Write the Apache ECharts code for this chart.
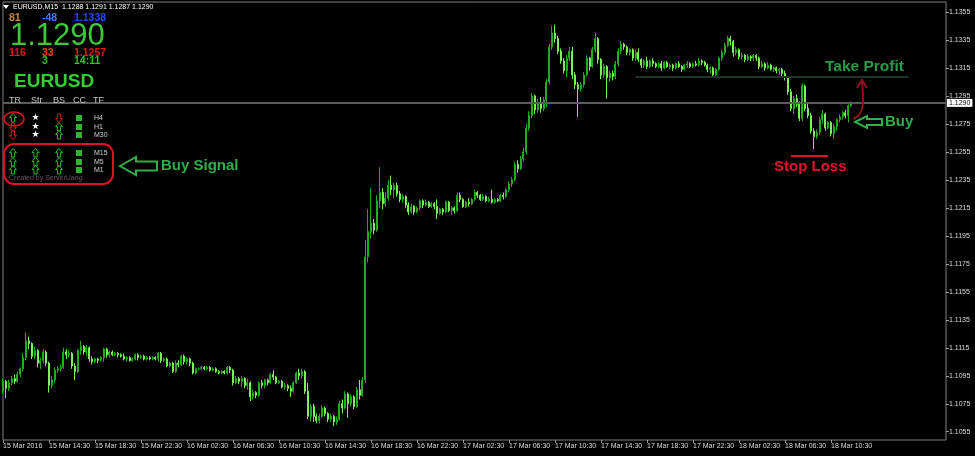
<!DOCTYPE html>
<html><head><meta charset="utf-8">
<script src="https://cdn.jsdelivr.net/npm/echarts@6/dist/echarts.min.js"></script>
<style>html,body{margin:0;padding:0;background:#000;}#c{width:975px;height:456px;}</style>
</head><body><div id="c"></div>
<script>
// ---- data: EURUSD M15 candles [open, close, low, high] ----
const tickLabels = ["15 Mar 2016","15 Mar 14:30","15 Mar 18:30","15 Mar 22:30","16 Mar 02:30","16 Mar 06:30","16 Mar 10:30","16 Mar 14:30","16 Mar 18:30","16 Mar 22:30","17 Mar 02:30","17 Mar 06:30","17 Mar 10:30","17 Mar 14:30","17 Mar 18:30","17 Mar 22:30","18 Mar 02:30","18 Mar 06:30","18 Mar 10:30"];
const yTicks = [1.1055,1.1075,1.1095,1.1115,1.1135,1.1155,1.1175,1.1195,1.1215,1.1235,1.1255,1.1275,1.1295,1.1315,1.1335,1.1355];
const bars15Mar = [
[1.1084,1.1091,1.1082,1.1093],[1.1091,1.1086,1.1079,1.1092],[1.1086,1.1090,1.1084,1.1092],[1.1090,1.1093,1.1088,1.1095],
[1.1093,1.1091,1.1089,1.1096],[1.1091,1.1096,1.1090,1.1098],[1.1096,1.1100,1.1094,1.1101],[1.1100,1.1108,1.1098,1.1111],
[1.1108,1.1120,1.1106,1.1126],[1.1120,1.1118,1.1114,1.1123],[1.1118,1.1109,1.1107,1.1119],[1.1109,1.1113,1.1107,1.1116],
[1.1113,1.1104,1.1101,1.1114],[1.1104,1.1106,1.1100,1.1108],[1.1106,1.1112,1.1104,1.1114],[1.1112,1.1104,1.1102,1.1113],
[1.1104,1.1088,1.1083,1.1105],[1.1088,1.1092,1.1086,1.1095],[1.1092,1.1099,1.1090,1.1101],[1.1099,1.1100,1.1097,1.1102],
[1.1100,1.1101,1.1098,1.1103],[1.1101,1.1112,1.1100,1.1115],[1.1112,1.1110,1.1107,1.1114],[1.1110,1.1111,1.1108,1.1113],
[1.1111,1.1102,1.1100,1.1112],[1.1102,1.1098,1.1092,1.1104],[1.1098,1.1113,1.1097,1.1114],[1.1113,1.1116,1.1110,1.1120],
[1.1116,1.1112,1.1110,1.1117],[1.1112,1.1115,1.1109,1.1117],[1.1115,1.1107,1.1105,1.1116],[1.1107,1.1105,1.1103,1.1109],
[1.1105,1.1107,1.1104,1.1108],[1.1107,1.1106,1.1104,1.1108],[1.1106,1.1108,1.1105,1.1109],[1.1108,1.1114,1.1105,1.1115],
[1.1114,1.1110,1.1108,1.1115],[1.1110,1.1112,1.1108,1.1113],[1.1112,1.1110,1.1109,1.1113],[1.1110,1.1111,1.1109,1.1112],
[1.1111,1.1110,1.1108,1.1112],[1.1110,1.1109,1.1108,1.1111],[1.1109,1.1107,1.1106,1.1111],[1.1107,1.1108,1.1105,1.1109],
[1.1108,1.1106,1.1105,1.1109],[1.1106,1.1107,1.1105,1.1108],[1.1107,1.1110,1.1106,1.1111],[1.1110,1.1108,1.1106,1.1111],
[1.1108,1.1109,1.1107,1.1110],[1.1109,1.1107,1.1106,1.1110],[1.1107,1.1108,1.1106,1.1109],[1.1108,1.1107,1.1106,1.1109],
[1.1107,1.1108,1.1106,1.1109],[1.1108,1.1107,1.1106,1.1109]
];
const bars16Mar = [
[1.1107,1.1111,1.1105,1.1112],[1.1111,1.1106,1.1104,1.1112],[1.1106,1.1107,1.1105,1.1108],[1.1107,1.1102,1.1101,1.1108],
[1.1102,1.1104,1.1101,1.1105],[1.1104,1.1098,1.1097,1.1105],[1.1098,1.1104,1.1097,1.1106],[1.1104,1.1103,1.1101,1.1106],
[1.1103,1.1109,1.1102,1.1110],[1.1109,1.1105,1.1103,1.1110],[1.1105,1.1107,1.1103,1.1108],[1.1107,1.1104,1.1102,1.1108],
[1.1104,1.1097,1.1096,1.1105],[1.1097,1.1100,1.1096,1.1101],[1.1100,1.1100,1.1099,1.1101],[1.1100,1.1101,1.1099,1.1102],
[1.1101,1.1100,1.1099,1.1102],[1.1100,1.1101,1.1099,1.1102],[1.1101,1.1099,1.1098,1.1102],[1.1099,1.1100,1.1098,1.1101],
[1.1100,1.1098,1.1097,1.1101],[1.1098,1.1097,1.1096,1.1099],[1.1097,1.1098,1.1096,1.1099],[1.1098,1.1097,1.1096,1.1099],
[1.1097,1.1101,1.1096,1.1102],[1.1101,1.1099,1.1097,1.1102],[1.1099,1.1090,1.1088,1.1100],[1.1090,1.1093,1.1089,1.1095],
[1.1093,1.1091,1.1089,1.1094],[1.1091,1.1093,1.1087,1.1095],[1.1093,1.1088,1.1086,1.1094],[1.1088,1.1090,1.1085,1.1093],
[1.1090,1.1080,1.1077,1.1091],[1.1080,1.1083,1.1078,1.1085],[1.1083,1.1081,1.1079,1.1084],[1.1081,1.1090,1.1080,1.1091],
[1.1090,1.1088,1.1086,1.1092],[1.1088,1.1092,1.1086,1.1093],[1.1092,1.1090,1.1088,1.1093],[1.1090,1.1096,1.1089,1.1097],
[1.1096,1.1094,1.1092,1.1099],[1.1094,1.1090,1.1089,1.1095],[1.1090,1.1091,1.1089,1.1092],[1.1091,1.1087,1.1086,1.1092],
[1.1087,1.1088,1.1085,1.1090],[1.1088,1.1086,1.1084,1.1089],[1.1086,1.1084,1.1080,1.1088],[1.1084,1.1090,1.1083,1.1091],
[1.1090,1.1097,1.1089,1.1098],[1.1097,1.1095,1.1092,1.1100],[1.1095,1.1098,1.1093,1.1100],[1.1098,1.1084,1.1082,1.1099],
[1.1084,1.1066,1.1064,1.1090],[1.1066,1.1073,1.1062,1.1075],[1.1073,1.1066,1.1062,1.1075],[1.1066,1.1063,1.1061,1.1068],
[1.1063,1.1066,1.1061,1.1068],[1.1066,1.1072,1.1065,1.1074],[1.1072,1.1068,1.1066,1.1073],[1.1068,1.1064,1.1062,1.1069],
[1.1064,1.1066,1.1062,1.1068],[1.1066,1.1062,1.1059,1.1067],[1.1062,1.1064,1.1060,1.1066],[1.1064,1.1075,1.1063,1.1077],
[1.1075,1.1072,1.1068,1.1078],[1.1072,1.1082,1.1071,1.1084],[1.1082,1.1075,1.1065,1.1083],[1.1075,1.1080,1.1073,1.1082],
[1.1080,1.1073,1.1071,1.1081],[1.1073,1.1085,1.1072,1.1087],[1.1085,1.1081,1.1078,1.1092],[1.1081,1.1092,1.1080,1.1094],
[1.1092,1.1180,1.1090,1.1192],[1.1180,1.1198,1.1176,1.1214],[1.1198,1.1204,1.1193,1.1229],[1.1204,1.1199,1.1196,1.1207],
[1.1199,1.1220,1.1198,1.1224],[1.1220,1.1226,1.1215,1.1244],[1.1226,1.1218,1.1214,1.1229],[1.1218,1.1222,1.1216,1.1226],
[1.1222,1.1231,1.1220,1.1235],[1.1231,1.1228,1.1224,1.1238],[1.1228,1.1231,1.1222,1.1233],[1.1231,1.1225,1.1223,1.1233],
[1.1225,1.1221,1.1219,1.1227],[1.1221,1.1223,1.1219,1.1225],[1.1223,1.1217,1.1215,1.1224],[1.1217,1.1212,1.1210,1.1219],
[1.1212,1.1216,1.1211,1.1218],[1.1216,1.1212,1.1210,1.1217],[1.1212,1.1215,1.1211,1.1216],[1.1215,1.1220,1.1213,1.1221],
[1.1220,1.1217,1.1215,1.1221],[1.1217,1.1219,1.1216,1.1221],[1.1219,1.1216,1.1215,1.1220],[1.1216,1.1218,1.1215,1.1219]
];
const bars17Mar = [
[1.1218,1.1216,1.1214,1.1219],[1.1216,1.1211,1.1207,1.1221],[1.1211,1.1214,1.1210,1.1215],[1.1214,1.1212,1.1210,1.1215],
[1.1212,1.1219,1.1211,1.1220],[1.1219,1.1213,1.1212,1.1220],[1.1213,1.1215,1.1210,1.1216],[1.1215,1.1213,1.1211,1.1216],
[1.1213,1.1224,1.1212,1.1226],[1.1224,1.1221,1.1219,1.1226],[1.1221,1.1216,1.1215,1.1222],[1.1216,1.1219,1.1215,1.1220],
[1.1219,1.1218,1.1216,1.1222],[1.1218,1.1221,1.1217,1.1222],[1.1221,1.1226,1.1220,1.1228],[1.1226,1.1224,1.1222,1.1227],
[1.1224,1.1221,1.1220,1.1225],[1.1221,1.1223,1.1220,1.1225],[1.1223,1.1220,1.1219,1.1224],[1.1220,1.1221,1.1219,1.1223],
[1.1221,1.1219,1.1218,1.1228],[1.1219,1.1221,1.1218,1.1222],[1.1221,1.1220,1.1219,1.1222],[1.1220,1.1224,1.1219,1.1225],
[1.1224,1.1223,1.1221,1.1226],[1.1223,1.1228,1.1222,1.1229],[1.1228,1.1232,1.1226,1.1234],[1.1232,1.1235,1.1230,1.1237],
[1.1235,1.1246,1.1234,1.1248],[1.1246,1.1243,1.1240,1.1249],[1.1243,1.1250,1.1242,1.1252],[1.1250,1.1255,1.1248,1.1258],
[1.1255,1.1272,1.1253,1.1275],[1.1272,1.1281,1.1270,1.1284],[1.1281,1.1295,1.1279,1.1297],[1.1295,1.1285,1.1282,1.1296],
[1.1285,1.1290,1.1283,1.1293],[1.1290,1.1286,1.1283,1.1294],[1.1286,1.1292,1.1284,1.1294],[1.1292,1.1305,1.1287,1.1307],
[1.1305,1.1330,1.1303,1.1332],[1.1330,1.1340,1.1328,1.1345],[1.1340,1.1336,1.1333,1.1346],[1.1336,1.1327,1.1325,1.1338],
[1.1327,1.1320,1.1318,1.1329],[1.1320,1.1313,1.1311,1.1322],[1.1313,1.1322,1.1308,1.1324],[1.1322,1.1327,1.1320,1.1330],
[1.1327,1.1310,1.1307,1.1330],[1.1310,1.1303,1.1300,1.1312],[1.1303,1.1300,1.1280,1.1305],[1.1300,1.1303,1.1298,1.1305],
[1.1303,1.1310,1.1301,1.1312],[1.1310,1.1322,1.1309,1.1324],[1.1322,1.1316,1.1313,1.1323],[1.1316,1.1328,1.1315,1.1330],
[1.1328,1.1336,1.1326,1.1340],[1.1336,1.1321,1.1318,1.1337],[1.1321,1.1310,1.1307,1.1322],[1.1310,1.1316,1.1308,1.1318],
[1.1316,1.1308,1.1293,1.1317],[1.1308,1.1311,1.1305,1.1313],[1.1311,1.1309,1.1306,1.1313],[1.1309,1.1318,1.1307,1.1320],
[1.1318,1.1327,1.1316,1.1329],[1.1327,1.1332,1.1325,1.1334],[1.1332,1.1330,1.1328,1.1333],[1.1330,1.1326,1.1324,1.1331],
[1.1326,1.1328,1.1324,1.1329],[1.1328,1.1322,1.1320,1.1329],[1.1322,1.1326,1.1320,1.1328],[1.1326,1.1321,1.1319,1.1329],
[1.1321,1.1317,1.1315,1.1322],[1.1317,1.1320,1.1315,1.1321],[1.1320,1.1316,1.1314,1.1323],[1.1316,1.1320,1.1315,1.1321],
[1.1320,1.1318,1.1316,1.1322],[1.1318,1.1316,1.1315,1.1319],[1.1316,1.1318,1.1315,1.1319],[1.1318,1.1315,1.1313,1.1320],
[1.1315,1.1319,1.1314,1.1320],[1.1319,1.1316,1.1315,1.1320],[1.1316,1.1317,1.1314,1.1318],[1.1317,1.1315,1.1313,1.1318],
[1.1315,1.1318,1.1314,1.1319],[1.1318,1.1316,1.1315,1.1320],[1.1316,1.1314,1.1312,1.1317],[1.1314,1.1317,1.1313,1.1318],
[1.1317,1.1318,1.1315,1.1320],[1.1318,1.1316,1.1315,1.1319],[1.1316,1.1318,1.1315,1.1319],[1.1318,1.1317,1.1316,1.1320],
[1.1317,1.1320,1.1316,1.1322],[1.1320,1.1319,1.1317,1.1321],[1.1319,1.1317,1.1316,1.1320],[1.1317,1.1314,1.1312,1.1318]
];
const bars18Mar = [
[1.1314,1.1315,1.1311,1.1316],[1.1315,1.1310,1.1308,1.1316],[1.1310,1.1314,1.1308,1.1315],[1.1314,1.1322,1.1313,1.1323],
[1.1322,1.1326,1.1320,1.1328],[1.1326,1.1331,1.1324,1.1333],[1.1331,1.1336,1.1330,1.1338],[1.1336,1.1334,1.1331,1.1338],
[1.1334,1.1326,1.1323,1.1335],[1.1326,1.1328,1.1324,1.1330],[1.1328,1.1323,1.1321,1.1329],[1.1323,1.1324,1.1321,1.1326],
[1.1324,1.1321,1.1319,1.1325],[1.1321,1.1323,1.1320,1.1325],[1.1323,1.1322,1.1320,1.1324],[1.1322,1.1324,1.1320,1.1325],
[1.1324,1.1322,1.1320,1.1325],[1.1322,1.1316,1.1314,1.1323],[1.1316,1.1318,1.1315,1.1320],[1.1318,1.1315,1.1313,1.1319],
[1.1315,1.1317,1.1314,1.1319],[1.1317,1.1314,1.1313,1.1318],[1.1314,1.1315,1.1312,1.1316],[1.1315,1.1313,1.1311,1.1316],
[1.1313,1.1314,1.1310,1.1315],[1.1314,1.1311,1.1309,1.1315],[1.1311,1.1308,1.1306,1.1313],[1.1308,1.1298,1.1296,1.1309],
[1.1298,1.1286,1.1284,1.1300],[1.1286,1.1293,1.1282,1.1295],[1.1293,1.1289,1.1287,1.1296],[1.1289,1.1279,1.1277,1.1291],
[1.1279,1.1302,1.1277,1.1304],[1.1302,1.1286,1.1284,1.1303],[1.1286,1.1281,1.1279,1.1290],[1.1281,1.1270,1.1268,1.1283],
[1.1270,1.1266,1.1257,1.1272],[1.1266,1.1269,1.1264,1.1271],[1.1269,1.1278,1.1267,1.1280],[1.1278,1.1282,1.1275,1.1285],
[1.1282,1.1272,1.1270,1.1283],[1.1272,1.1276,1.1271,1.1277],[1.1276,1.1268,1.1266,1.1277],[1.1268,1.1273,1.1264,1.1275],
[1.1273,1.1278,1.1270,1.1279],[1.1278,1.1280,1.1276,1.1282],[1.1280,1.1283,1.1278,1.1284],[1.1283,1.1281,1.1279,1.1285],
[1.1281,1.1288,1.1276,1.1289],[1.1288,1.1290,1.1287,1.1291]
];
const lastPrice = 1.1290;
const takeProfit = 1.1309;
const takeProfitSpan = [220, 315];
const stopLoss = 1.1252;
const stopLossSpan = [274, 287];
const headerText = 'EURUSD,M15  1.1288 1.1291 1.1287 1.1290';
const timeframes = ['H4','H1','M30','M15','M5','M1'];
const trCol = ['up','down','down','up','up','up'];
const strCol = ['star','star','star','up','up','up'];
const bsCol = ['down','up','up','up','up','up'];

// ---- build ----
const bars = bars15Mar.concat(bars16Mar, bars17Mar, bars18Mar);
const SLOTS = 329;
const categories = Array.from({length: SLOTS}, (_, i) => String(i));
const F = '"Liberation Sans", Arial, sans-serif';
const G = [];
function txt(x, y, text, fill, font, align) {
  G.push({type: 'text', x: x, y: y, silent: true, z: 100,
    style: {text: text, fill: fill, font: font, textAlign: align || 'left', textVerticalAlign: 'middle', align: align || 'left', verticalAlign: 'middle'}});
}
// header
G.push({type: 'polygon', silent: true, z: 100, shape: {points: [[3,5],[9,5],[6,9]]}, style: {fill: '#ffffff'}});
txt(13, 7.5, headerText, '#ffffff', '7px ' + F);
txt(9, 18, '81', '#c8823c', 'bold 10.5px ' + F);
txt(42, 18, '-48', '#3c82ff', 'bold 10.5px ' + F);
txt(74, 18, '1.1338', '#2244ff', 'bold 10.5px ' + F);
txt(10, 36, '1.1290', '#3cc83c', '31px ' + F);
txt(9, 53, '116', '#e01818', 'bold 10.5px ' + F);
txt(42, 53, '33', '#e84a1c', 'bold 10.5px ' + F);
txt(74, 53, '1.1257', '#e81818', 'bold 10.5px ' + F);
txt(42, 61, '3', '#33c033', 'bold 10.5px ' + F);
txt(74, 61, '14:11', '#33c033', 'bold 10.5px ' + F);
txt(14, 82, 'EURUSD', '#33cc33', 'bold 19px ' + F);
[['TR',9],['Str',31],['BS',53],['CC',73],['TF',93]].forEach(h => txt(h[1], 101, h[0], '#c8c8c8', '9px ' + F));
const rowY = [118, 127, 135, 153, 162, 170];
function arrowIcon(up, cx, cy, color) {
  const s = up ? 1 : -1;
  const pts = [[cx, cy - 4.5 * s], [cx + 3.5, cy - 0.5 * s], [cx + 1.6, cy - 0.5 * s], [cx + 1.6, cy + 4 * s],
               [cx - 1.6, cy + 4 * s], [cx - 1.6, cy - 0.5 * s], [cx - 3.5, cy - 0.5 * s]];
  G.push({type: 'polygon', silent: true, z: 100, shape: {points: pts}, style: {fill: 'none', stroke: color, lineWidth: 1}});
}
function icon(kind, x, y) {
  if (kind === 'up') arrowIcon(true, x, y, '#2db52d');
  else if (kind === 'down') arrowIcon(false, x, y, '#cc1a1a');
  else txt(x, y, '\u2605', '#ffffff', '9px "DejaVu Sans"', 'center');
}
timeframes.forEach((tf, k) => {
  const y = rowY[k];
  icon(trCol[k], 13, y);
  icon(strCol[k], 35.5, y);
  icon(bsCol[k], 59, y);
  G.push({type: 'rect', silent: true, z: 100, shape: {x: 76, y: y - 3, width: 6, height: 6}, style: {fill: '#2db52d'}});
  txt(94, y, tf, '#d0d0d0', '7px ' + F);
});
txt(9, 178, 'Created by ServerUang', '#5a5a5a', '7px ' + F);
G.push({type: 'ellipse', silent: true, z: 100, shape: {cx: 14, cy: 119, rx: 10, ry: 7}, style: {fill: 'none', stroke: '#e01020', lineWidth: 1.5}});
G.push({type: 'rect', silent: true, z: 100, shape: {x: 4, y: 144, width: 109, height: 40, r: 10}, style: {fill: 'none', stroke: '#e01020', lineWidth: 2}});
// Buy Signal arrow + label
G.push({type: 'polygon', silent: true, z: 100, shape: {points: [[120,166],[136,157],[136,161.5],[157,161.5],[157,170.5],[136,170.5],[136,175]]}, style: {fill: 'none', stroke: '#2fae4a', lineWidth: 2}});
txt(161, 166, 'Buy Signal', '#2fae4a', 'bold 15px ' + F);
// right annotations
txt(825, 67, 'Take Profit', '#2a9a48', 'bold 15.5px ' + F);
G.push({type: 'polygon', silent: true, z: 100, shape: {points: [[855,122],[867,116],[867,119],[882,119],[882,125],[867,125],[867,128]]}, style: {fill: 'none', stroke: '#2fae4a', lineWidth: 2}});
txt(885, 122, 'Buy', '#2fae4a', 'bold 15px ' + F);
txt(774, 167, 'Stop Loss', '#e8112d', 'bold 15px ' + F);
G.push({type: 'bezierCurve', silent: true, z: 100, shape: {x1: 853, y1: 119, cpx1: 866, cpy1: 114, cpx2: 863, cpy2: 98, x2: 862, y2: 81}, style: {fill: 'none', stroke: '#8c1420', lineWidth: 2}});
G.push({type: 'polyline', silent: true, z: 100, shape: {points: [[857,88],[862,80],[867,88]]}, style: {fill: 'none', stroke: '#8c1420', lineWidth: 2}});

const tickEvery = (i) => i % 16 === 0 && i / 16 < tickLabels.length;
const chart = echarts.init(document.getElementById('c'), null, {renderer: 'canvas'});
chart.setOption({
  backgroundColor: '#000000',
  animation: false,
  grid: {left: 3, right: 29, top: 2, bottom: 16, show: true, borderColor: '#808080', borderWidth: 1},
  xAxis: {
    type: 'category', data: categories, boundaryGap: false,
    axisLine: {show: false}, splitLine: {show: false},
    axisTick: {show: true, interval: tickEvery, length: 3, lineStyle: {color: '#9a9a9a'}},
    axisLabel: {interval: tickEvery, formatter: (v, i) => tickLabels[i / 16] || '', color: '#dcdcdc', fontSize: 7, fontFamily: F, align: 'left', margin: 3}
  },
  yAxis: {
    type: 'value', position: 'right', min: 1.10491, max: 1.13621,
    axisLine: {show: false}, splitLine: {show: false},
    axisTick: {show: true, customValues: yTicks, length: 3, lineStyle: {color: '#9a9a9a'}},
    axisLabel: {customValues: yTicks, formatter: v => v.toFixed(4), color: '#dcdcdc', fontSize: 7, fontFamily: F, margin: 3}
  },
  series: [{
    type: 'candlestick', data: bars, barWidth: 1.5,
    itemStyle: {color: '#169e16', color0: '#9cff7a', borderColor: '#1fae1f', borderColor0: '#7cf25a', borderWidth: 1},
    markLine: {
      silent: true, symbol: ['none', 'none'], animation: false, precision: 5,
      data: [
        {yAxis: lastPrice, lineStyle: {color: '#5c5c5c', width: 2, type: 'solid'},
         label: {show: true, position: 'end', formatter: lastPrice.toFixed(4), color: '#000', backgroundColor: '#fff', fontSize: 7, fontFamily: F, padding: [1, 2, 0, 2], distance: 1}},
        [{coord: [takeProfitSpan[0], takeProfit], lineStyle: {color: '#1f3326', width: 2, type: 'solid'}, label: {show: false}}, {coord: [takeProfitSpan[1], takeProfit]}],
        [{coord: [stopLossSpan[0], stopLoss], lineStyle: {color: '#e0102a', width: 2, type: 'solid'}, label: {show: false}}, {coord: [stopLossSpan[1], stopLoss]}]
      ]
    }
  }],
  graphic: G
});
</script></body></html>
